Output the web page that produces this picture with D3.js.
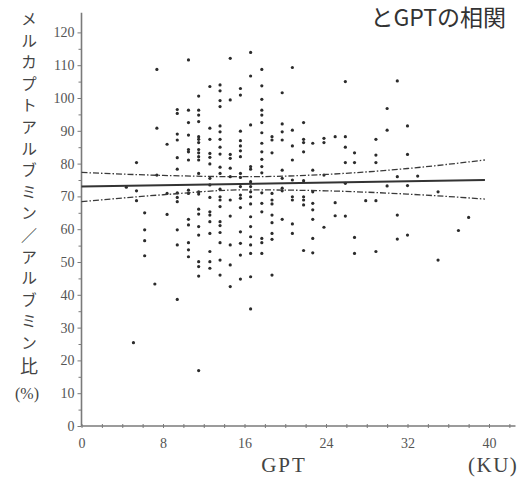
<!DOCTYPE html>
<html>
<head>
<meta charset="utf-8">
<script src="https://cdn.jsdelivr.net/npm/d3@7/dist/d3.min.js"></script>
<style>
  html, body { margin: 0; padding: 0; background: #fff; }
  svg { display: block; }
</style>
</head>
<body>
<svg id="chart" width="528" height="480"></svg>
<script>
// GPT (KU) column positions and the mercaptalbumin ratio (%) of each point in that column
const gptColumns = [4.4, 5.1, 5.4, 6.2, 7.2, 7.4, 8.4, 9.4, 10.5, 11.5, 12.6, 13.6, 14.6, 15.6, 16.6,
  17.7, 18.7, 19.7, 20.7, 21.8, 22.7, 23.8, 24.9, 25.9, 26.8, 27.9, 28.9, 30.0, 31.0, 32.0, 33.0, 35.0, 37.0, 38.0];
const ratioByColumn = [
  [72.8],
  [25.4],
  [80.3, 71.7, 68.7],
  [65.0, 59.8, 56.5, 51.9],
  [43.3],
  [108.7, 90.8, 76.5],
  [85.9, 70.9, 64.5],
  [96.5, 95.3, 89.0, 87.2, 81.8, 78.3, 71.1, 69.7, 68.4, 59.8, 55.2, 38.6],
  [111.6, 96.3, 92.5, 88.7, 84.3, 83.6, 81.1, 71.9, 70.9, 63.0, 61.3, 55.9, 53.7, 51.6],
  [100.6, 96.3, 94.8, 92.8, 88.2, 87.4, 86.4, 84.3, 83.3, 82.1, 81.1, 77.0, 71.4, 70.7, 66.1, 64.6, 60.8, 58.2, 50.1, 48.6, 45.7, 16.9],
  [103.5, 90.8, 87.4, 83.1, 81.9, 79.9, 75.5, 73.5, 69.7, 65.3, 64.3, 62.3, 58.7, 53.2, 50.1, 48.1],
  [104.0, 102.2, 99.2, 97.4, 91.5, 89.7, 87.4, 85.0, 82.9, 78.9, 77.0, 72.2, 69.9, 68.9, 66.9, 62.3, 61.1, 59.0, 55.9, 50.6, 46.0],
  [112.1, 99.4, 82.8, 81.6, 78.6, 76.0, 68.9, 64.0, 55.2, 49.1, 42.5],
  [102.9, 100.9, 89.9, 87.0, 85.4, 83.9, 82.1, 77.0, 75.8, 73.0, 70.4, 69.4, 66.6, 59.2, 55.7, 52.1, 44.8],
  [113.9, 106.7, 91.8, 79.1, 78.3, 74.5, 73.0, 71.4, 69.9, 67.7, 63.8, 60.8, 57.7, 55.2, 52.6, 45.5, 35.7],
  [108.7, 103.7, 99.6, 96.3, 94.8, 92.5, 89.4, 86.2, 83.6, 81.3, 79.1, 77.2, 71.1, 67.9, 65.3, 57.2, 55.9, 52.6],
  [88.2, 87.2, 83.3, 70.9, 68.9, 67.7, 64.3, 62.0, 58.7, 56.9, 46.0],
  [101.6, 92.1, 89.7, 87.2, 78.0, 75.5, 72.5, 71.7, 63.0],
  [109.3, 90.2, 85.4, 81.1, 75.0, 69.9, 68.9, 61.6, 58.7],
  [92.5, 87.4, 86.4, 83.6, 74.8, 69.9, 68.9, 67.4, 53.5],
  [86.2, 78.0, 71.4, 67.9, 65.9, 63.0, 57.2, 52.8],
  [87.7, 86.4, 76.5, 60.6],
  [88.2, 68.1, 64.1],
  [105.0, 88.2, 85.0, 80.3, 74.0, 64.0],
  [83.3, 80.3, 57.5, 52.6],
  [68.7],
  [87.4, 82.6, 80.3, 68.7, 53.2],
  [96.8, 90.2, 73.2],
  [105.2, 76.0, 64.3, 57.0],
  [91.5, 82.8, 73.3, 58.2],
  [76.2],
  [71.4, 50.6],
  [59.6],
  [63.6]
];

// regression line and its confidence band
const fitX = [0, 39.6];
const fitY = [73.0, 75.0];
const bandX = [0, 8, 16, 24, 32, 39.6];
const bandUpper = [77.3, 76.4, 76.0, 76.7, 78.5, 81.1];
const bandLower = [68.4, 70.5, 72.0, 71.7, 70.7, 69.2];

// axis ticks
const xTickLabels = [0, 8, 16, 24, 32, 40];
const xTicks = d3.range(0, 43, 2);
const yTickLabels = d3.range(0, 121, 10);
const yMinorTicks = d3.range(5, 120, 10);

const yTitle = "メルカプトアルブミン／アルブミン";
const yTitleEnd = "比";
const yUnit = "(%)";
const xTitle = "GPT";
const xUnit = "(KU)";
const title = "とGPTの相関";

const svg = d3.select("#chart");
const x = d3.scaleLinear().domain([0, 40]).range([81.5, 489]);
const y = d3.scaleLinear().domain([0, 120]).range([426, 32.4]);

const serif = "'Liberation Serif', 'DejaVu Serif', serif";
const cjk = "'Noto Sans CJK JP', 'Noto Sans', sans-serif";
const axisColor = "#7a7a7a";
const labelColor = "#555";

// axis lines (the plot frame runs a little past the last labels)
svg.append("line")
  .attr("x1", x(0)).attr("x2", x(0))
  .attr("y1", y(0)).attr("y2", y(126))
  .attr("stroke", axisColor).attr("stroke-width", 1.6);
svg.append("line")
  .attr("x1", x(0)).attr("x2", x(42.6))
  .attr("y1", y(0)).attr("y2", y(0))
  .attr("stroke", axisColor).attr("stroke-width", 1.6);

// y axis
const yAxis = svg.append("g")
  .attr("transform", `translate(${x(0)},0)`)
  .call(d3.axisLeft(y).tickValues(yTickLabels).tickSize(4).tickPadding(3));
const yMinor = svg.append("g")
  .attr("transform", `translate(${x(0)},0)`)
  .call(d3.axisLeft(y).tickValues(yMinorTicks).tickSize(3).tickFormat(""));

// x axis
const xAxis = svg.append("g")
  .attr("transform", `translate(0,${y(0)})`)
  .call(d3.axisBottom(x).tickValues(xTicks).tickSize(3)
    .tickFormat(d => xTickLabels.includes(d) ? d : ""));

[yAxis, yMinor, xAxis].forEach(g => {
  g.select(".domain").remove();
  g.selectAll(".tick line").attr("stroke", axisColor).attr("stroke-width", 1);
  g.selectAll(".tick text")
    .attr("fill", labelColor)
    .style("font-family", serif)
    .style("font-size", "14px");
});
xAxis.selectAll(".tick line").attr("y1", -2).attr("y2", 2);
xAxis.selectAll(".tick text").attr("dy", "0.95em").attr("y", 9);

// scatter points
const points = gptColumns.flatMap((g, i) => ratioByColumn[i].map(r => ({ g, r })));
svg.append("g")
  .selectAll("circle")
  .data(points)
  .join("circle")
  .attr("cx", d => x(d.g))
  .attr("cy", d => y(d.r))
  .attr("r", 1.6)
  .attr("fill", "#2b2b2b");

// confidence band
const bandLine = d3.line().curve(d3.curveMonotoneX).x(d => x(d[0])).y(d => y(d[1]));
[bandUpper, bandLower].forEach(vals => {
  svg.append("path")
    .datum(bandX.map((bx, i) => [bx, vals[i]]))
    .attr("d", bandLine)
    .attr("fill", "none")
    .attr("stroke", "#3a3a3a")
    .attr("stroke-width", 1.3)
    .attr("stroke-dasharray", "6,2,1.5,2");
});

// regression line
svg.append("path")
  .datum(fitX.map((fx, i) => [fx, fitY[i]]))
  .attr("d", d3.line().x(d => x(d[0])).y(d => y(d[1])))
  .attr("fill", "none")
  .attr("stroke", "#333")
  .attr("stroke-width", 2);

// vertical y axis title, set in vertical writing mode
const yTitleText = svg.append("text")
  .attr("x", 29).attr("y", 11)
  .attr("fill", "#444")
  .style("writing-mode", "vertical-rl")
  .style("font-family", cjk)
  .style("font-size", "16px")
  .style("letter-spacing", "5.6px")
  .text(yTitle);
yTitleText.append("tspan")
  .style("font-size", "18px")
  .text(yTitleEnd);
svg.append("text")
  .attr("x", 27).attr("y", 399)
  .attr("text-anchor", "middle")
  .attr("fill", "#444")
  .style("font-family", serif)
  .style("font-size", "16px")
  .text(yUnit);

// x axis title and unit
svg.append("text")
  .attr("x", 284).attr("y", 472)
  .attr("text-anchor", "middle")
  .attr("fill", "#444")
  .style("font-family", serif)
  .style("font-size", "21px")
  .style("letter-spacing", "2px")
  .text(xTitle);
svg.append("text")
  .attr("x", 468).attr("y", 472)
  .attr("fill", "#444")
  .style("font-family", serif)
  .style("font-size", "21px")
  .style("letter-spacing", "1.5px")
  .text(xUnit);

// chart title
svg.append("text")
  .attr("x", 506).attr("y", 26)
  .attr("text-anchor", "end")
  .attr("fill", "#333")
  .style("font-family", cjk)
  .style("font-size", "23px")
  .text(title);
</script>
</body>
</html>
